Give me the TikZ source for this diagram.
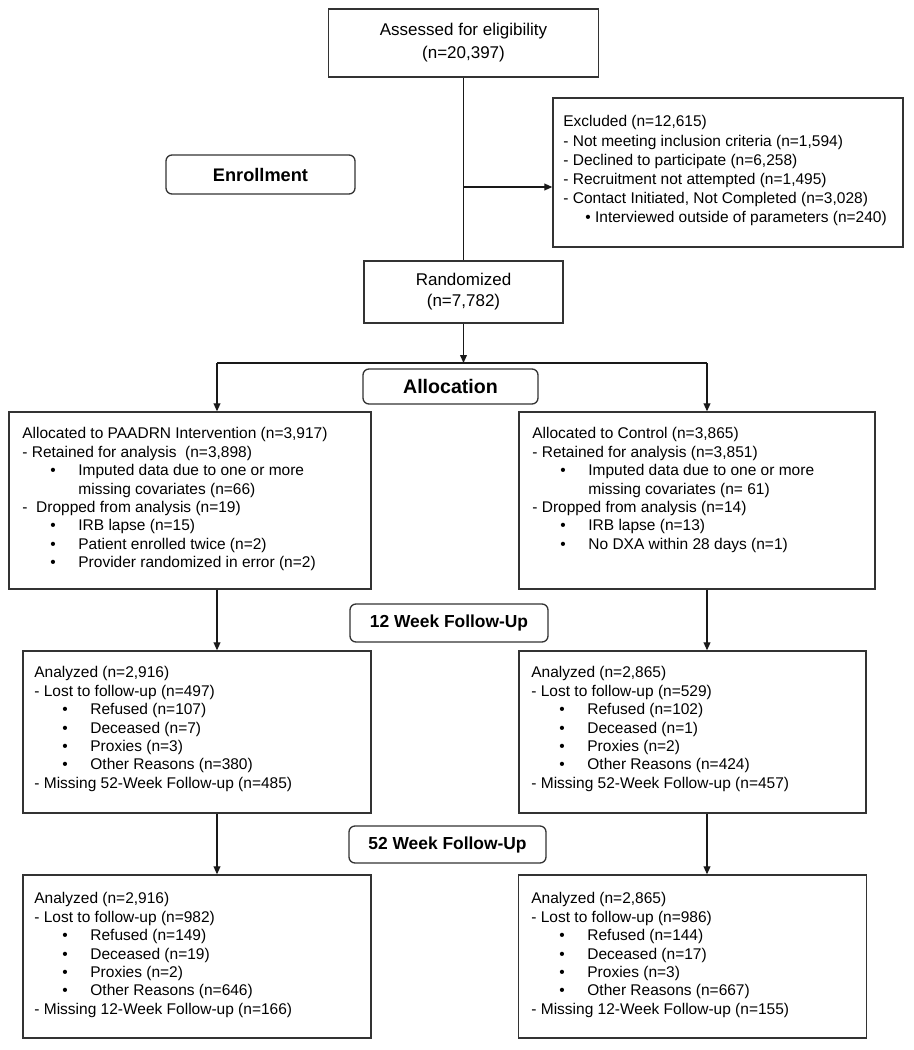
\documentclass[tikz,border=0pt]{standalone}
\usepackage{fontspec}
\setmainfont{Liberation Sans}
\usetikzlibrary{arrows.meta}
\newcommand\bul{\hspace*{14pt}\makebox[14pt][l]{\textbullet}}
\newcommand\cnt{\hspace*{28pt}}
\begin{document}
\begin{tikzpicture}[x=0.5pt,y=-0.5pt,
  box/.style={draw=black!80, line width=0.65pt, inner sep=0pt, align=center},
  stage/.style={draw=black!80, line width=0.65pt, rounded corners=3pt, inner sep=0pt},
  txt/.style={anchor=north west, inner sep=0pt, align=left, font=\fontsize{7.75}{9.2}\selectfont},
  arr/.style={-{Triangle[length=4pt,width=3.4pt]}, line width=0.6pt, draw=black!90},
  ln/.style={line width=0.6pt, draw=black!90}]
\useasboundingbox (0,0) rectangle (914,1050);

% top
\node[box, minimum width=135pt, minimum height=34pt, font=\fontsize{8.5}{11.5}\selectfont] (assess) at (463.5,43) {Assessed for eligibility\\(n=20,397)};
\node[box, minimum width=175pt, minimum height=74.5pt] (excl) at (728,172.5) {};
\node[txt, font=\fontsize{7.75}{9.6}\selectfont] (exclt) at (563,113.1) {\strut Excluded (n=12,615)\\
- Not meeting inclusion criteria (n=1,594)\\
- Declined to participate (n=6,258)\\
- Recruitment not attempted (n=1,495)\\
- Contact Initiated, Not Completed (n=3,028)\\
\hspace*{11pt}\textbullet{} Interviewed outside of parameters (n=240)};
\node[stage, minimum width=94.5pt, minimum height=19.5pt, font=\fontsize{9.1}{11}\selectfont\bfseries] (enroll) at (260.5,174.5) {Enrollment};
\node[box, minimum width=99.5pt, minimum height=31pt, font=\fontsize{8.5}{10.5}\selectfont] (rand) at (463.5,292) {Randomized\\(n=7,782)};
\node[stage, minimum width=87.5pt, minimum height=17.5pt, font=\fontsize{9.8}{12}\selectfont\bfseries] (alloc) at (450.5,386.5) {Allocation};

% allocation boxes
\node[box, minimum width=181pt, minimum height=88.5pt] (L1) at (190,500.5) {};
\node[txt] (L1t) at (22,425.6) {\strut Allocated to PAADRN Intervention (n=3,917)\\
- Retained for analysis\ \ (n=3,898)\\
\bul Imputed data due to one or more\\
\cnt missing covariates (n=66)\\
-\ \ Dropped from analysis (n=19)\\
\bul IRB lapse (n=15)\\
\bul Patient enrolled twice (n=2)\\
\bul Provider randomized in error (n=2)};
\node[box, minimum width=178pt, minimum height=88.5pt] (R1) at (697,500.5) {};
\node[txt] (R1t) at (532,425.6) {\strut Allocated to Control (n=3,865)\\
- Retained for analysis (n=3,851)\\
\bul Imputed data due to one or more\\
\cnt missing covariates (n= 61)\\
- Dropped from analysis (n=14)\\
\bul IRB lapse (n=13)\\
\bul No DXA within 28 days (n=1)};

% 12 week
\node[stage, minimum width=99pt, minimum height=19pt, font=\fontsize{8.7}{11}\selectfont\bfseries] (w12) at (449,623) {12 Week Follow-Up};
\node[box, minimum width=174pt, minimum height=81pt] (L2) at (197,732) {};
\node[txt] (L2t) at (34,664.6) {\strut Analyzed (n=2,916)\\
- Lost to follow-up (n=497)\\
\bul Refused (n=107)\\
\bul Deceased (n=7)\\
\bul Proxies (n=3)\\
\bul Other Reasons (n=380)\\
- Missing 52-Week Follow-up (n=485)};
\node[box, minimum width=173.5pt, minimum height=81pt] (R2) at (692.5,732) {};
\node[txt] (R2t) at (531,664.6) {\strut Analyzed (n=2,865)\\
- Lost to follow-up (n=529)\\
\bul Refused (n=102)\\
\bul Deceased (n=1)\\
\bul Proxies (n=2)\\
\bul Other Reasons (n=424)\\
- Missing 52-Week Follow-up (n=457)};

% 52 week
\node[stage, minimum width=98.5pt, minimum height=18.5pt, font=\fontsize{8.7}{11}\selectfont\bfseries] (w52) at (447.5,844.5) {52 Week Follow-Up};
\node[box, minimum width=174pt, minimum height=81.5pt] (L3) at (197,956.5) {};
\node[txt] (L3t) at (34,890.6) {\strut Analyzed (n=2,916)\\
- Lost to follow-up (n=982)\\
\bul Refused (n=149)\\
\bul Deceased (n=19)\\
\bul Proxies (n=2)\\
\bul Other Reasons (n=646)\\
- Missing 12-Week Follow-up (n=166)};
\node[box, minimum width=174pt, minimum height=81.5pt] (R3) at (692.5,956.5) {};
\node[txt] (R3t) at (531,890.6) {\strut Analyzed (n=2,865)\\
- Lost to follow-up (n=986)\\
\bul Refused (n=144)\\
\bul Deceased (n=17)\\
\bul Proxies (n=3)\\
\bul Other Reasons (n=667)\\
- Missing 12-Week Follow-up (n=155)};

% connectors
\draw[ln] (assess.south) -- (rand.north);
\coordinate (ex) at (463.5,187);
\draw[arr] (ex) -- (ex -| excl.west);
\coordinate (br) at (463.5,363);
\draw[arr] (rand.south) -- (br);
\coordinate (bl) at (217,363);
\coordinate (bR) at (707,363);
\draw[ln] (bl) -- (bR);
\draw[arr] (bl) -- (bl |- L1.north);
\draw[arr] (bR) -- (bR |- R1.north);
\draw[arr] (L1.south -| bl) -- (L2.north -| bl);
\draw[arr] (R1.south -| bR) -- (R2.north -| bR);
\draw[arr] (L2.south -| bl) -- (L3.north -| bl);
\draw[arr] (R2.south -| bR) -- (R3.north -| bR);
\end{tikzpicture}
\end{document}
